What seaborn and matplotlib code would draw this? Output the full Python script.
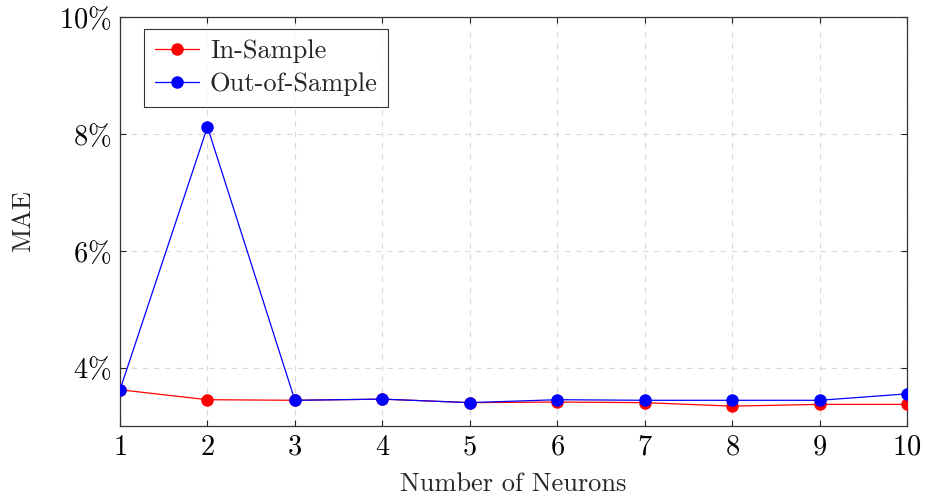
import matplotlib
matplotlib.use("Agg")
import matplotlib.pyplot as plt
import seaborn as sns
import pandas as pd
from matplotlib.ticker import FixedLocator, FuncFormatter

neurons = [1, 2, 3, 4, 5, 6, 7, 8, 9, 10]
in_sample = [3.62, 3.45, 3.44, 3.46, 3.40, 3.41, 3.40, 3.34, 3.37, 3.37]
out_sample = [3.62, 8.12, 3.44, 3.46, 3.40, 3.45, 3.44, 3.44, 3.44, 3.55]
y_ticks = [4, 6, 8, 10]

sns.set_style("ticks")
plt.rcParams["font.family"] = ["cmr10", "DejaVu Serif"]
plt.rcParams["mathtext.fontset"] = "cm"
plt.rcParams["axes.unicode_minus"] = False
plt.rcParams["axes.formatter.use_mathtext"] = True

fig = plt.figure(figsize=(9.25, 5.01), dpi=100)
ax = fig.add_axes([120/925, 75/501, (907-120)/925, (426-17)/501])

df_in = pd.DataFrame({"x": neurons, "y": in_sample})
df_out = pd.DataFrame({"x": neurons, "y": out_sample})

sns.lineplot(data=df_in, x="x", y="y", ax=ax, color="red", marker="o",
             markersize=9, markeredgewidth=0, linewidth=0.9, label="In-Sample", zorder=3)
sns.lineplot(data=df_out, x="x", y="y", ax=ax, color="blue", marker="o",
             markersize=9, markeredgewidth=0, linewidth=0.9, label="Out-of-Sample", zorder=4)

ax.set_xlim(1, 10)
ax.set_ylim(3, 10)
ax.xaxis.set_major_locator(FixedLocator(neurons))
ax.yaxis.set_major_locator(FixedLocator(y_ticks))
ax.xaxis.set_major_formatter(FuncFormatter(lambda v, p: r"$%d$" % v))
ax.yaxis.set_major_formatter(FuncFormatter(lambda v, p: r"$%d\%%$" % v))
ax.tick_params(axis="both", direction="in", length=4, width=0.8, labelsize=20.5,
               top=True, right=True, colors="#222222", labelcolor="black", pad=6)
ax.grid(True, linestyle=(0, (5, 5)), color="#d9d9d9", linewidth=0.8)
for s in ax.spines.values():
    s.set_color("#333333")
    s.set_linewidth(0.9)
    s.set_visible(True)

ax.set_xlabel("Number of Neurons", fontsize=19, labelpad=8)
ax.set_ylabel("MAE", fontsize=19, labelpad=17)

leg = ax.legend(loc="upper left", bbox_to_anchor=(24/787, 1 - 12/409), fontsize=19,
                frameon=True, fancybox=False, edgecolor="black", borderaxespad=0,
                handlelength=1.7, borderpad=0.4, labelspacing=0.35, handletextpad=0.4)
leg.get_frame().set_linewidth(0.8)

fig.savefig("out.png", dpi=100)
